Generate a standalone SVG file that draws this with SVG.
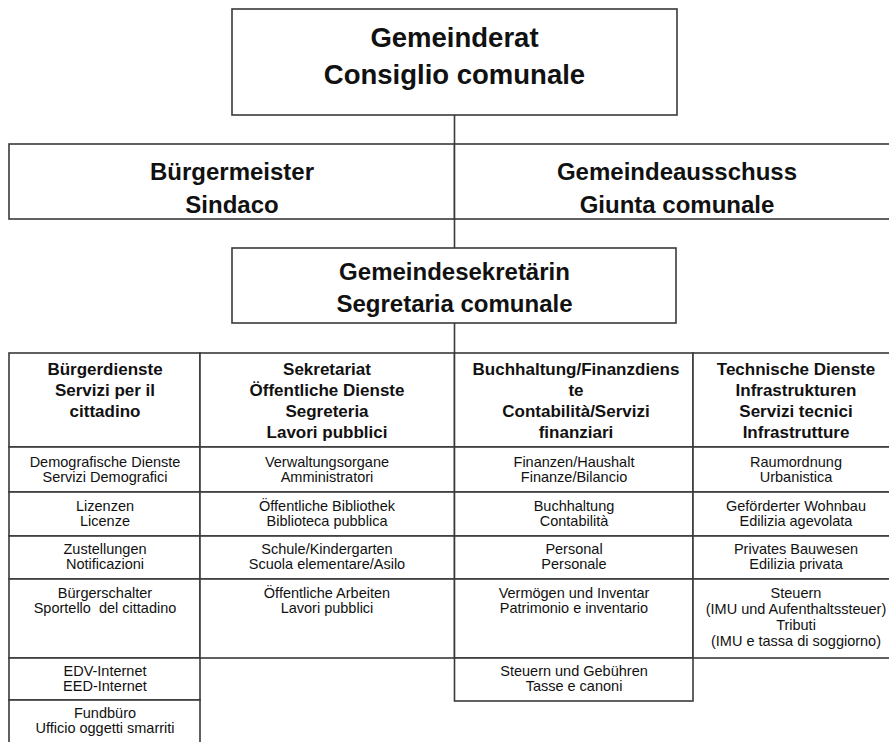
<svg xmlns="http://www.w3.org/2000/svg" width="889" height="742" viewBox="0 0 889 742">
<style>
.bx{fill:#fff;stroke:#3a3a3a;stroke-width:1.6}
.cn{stroke:#3a3a3a;stroke-width:1.6;fill:none}
text{font-family:"Liberation Sans",Arial,sans-serif;fill:#111;text-anchor:middle}
.t1{font-size:27.5px;font-weight:bold}
.t2{font-size:24px;font-weight:bold}
.t3{font-size:24px;font-weight:bold}
.h{font-size:17px;font-weight:bold}
.c{font-size:14.5px}
</style>
<rect width="889" height="742" fill="#fff"/>
<g id="connectors">
<line class="cn" x1="454.5" y1="115" x2="454.5" y2="144"/>
<line class="cn" x1="454.5" y1="219" x2="454.5" y2="248"/>
<line class="cn" x1="454.5" y1="323" x2="454.5" y2="353"/>
</g>
<g id="gemeinderat">
<rect class="bx" x="232" y="9" width="445" height="106"/>
<text class="t1" x="454.5" y="47">Gemeinderat</text>
<text class="t1" x="454.5" y="84">Consiglio comunale</text>
</g>
<g id="buergermeister">
<rect class="bx" x="9" y="144" width="445.5" height="75"/>
<text class="t2" x="232" y="180">Bürgermeister</text>
<text class="t2" x="232" y="213">Sindaco</text>
</g>
<g id="gemeindeausschuss">
<rect class="bx" x="454.5" y="144" width="445" height="75"/>
<text class="t2" x="677" y="180">Gemeindeausschuss</text>
<text class="t2" x="677" y="213">Giunta comunale</text>
</g>
<g id="gemeindesekretaerin">
<rect class="bx" x="232" y="248" width="444" height="75"/>
<text class="t3" x="454.5" y="280">Gemeindesekretärin</text>
<text class="t3" x="454.5" y="312">Segretaria comunale</text>
</g>
<g id="col1-head">
<rect class="bx" x="9" y="353" width="191" height="94"/>
<text class="h" x="105" y="375">Bürgerdienste</text>
<text class="h" x="105" y="396">Servizi per il</text>
<text class="h" x="105" y="417">cittadino</text>
</g>
<g id="col2-head">
<rect class="bx" x="200" y="353" width="254.5" height="94"/>
<text class="h" x="327" y="375">Sekretariat</text>
<text class="h" x="327" y="396">Öffentliche Dienste</text>
<text class="h" x="327" y="417">Segreteria</text>
<text class="h" x="327" y="438">Lavori pubblici</text>
</g>
<g id="col3-head">
<rect class="bx" x="454.5" y="353" width="238.5" height="94"/>
<text class="h" x="576" y="375">Buchhaltung/Finanzdiens</text>
<text class="h" x="576" y="396">te</text>
<text class="h" x="576" y="417">Contabilità/Servizi</text>
<text class="h" x="576" y="438">finanziari</text>
</g>
<g id="col4-head">
<rect class="bx" x="693" y="353" width="206" height="94"/>
<text class="h" x="796" y="375">Technische Dienste</text>
<text class="h" x="796" y="396">Infrastrukturen</text>
<text class="h" x="796" y="417">Servizi tecnici</text>
<text class="h" x="796" y="438">Infrastrutture</text>
</g>
<g id="c1r1"><rect class="bx" x="9" y="447" width="191" height="45"/>
<text class="c" x="105" y="467">Demografische Dienste</text><text class="c" x="105" y="482">Servizi Demografici</text></g>
<g id="c1r2"><rect class="bx" x="9" y="492" width="191" height="44"/>
<text class="c" x="105" y="511">Lizenzen</text><text class="c" x="105" y="526">Licenze</text></g>
<g id="c1r3"><rect class="bx" x="9" y="536" width="191" height="43"/>
<text class="c" x="105" y="554">Zustellungen</text><text class="c" x="105" y="569">Notificazioni</text></g>
<g id="c1r4"><rect class="bx" x="9" y="579" width="191" height="79"/>
<text class="c" x="105" y="598">Bürgerschalter</text><text class="c" x="105" y="613" xml:space="preserve">Sportello  del cittadino</text></g>
<g id="c1r5"><rect class="bx" x="9" y="658" width="191" height="42"/>
<text class="c" x="105" y="676">EDV-Internet</text><text class="c" x="105" y="691">EED-Internet</text></g>
<g id="c1r6"><rect class="bx" x="9" y="700" width="191" height="60"/>
<text class="c" x="105" y="718">Fundbüro</text><text class="c" x="105" y="733">Ufficio oggetti smarriti</text></g>
<g id="c2r1"><rect class="bx" x="200" y="447" width="254.5" height="45"/>
<text class="c" x="327" y="467">Verwaltungsorgane</text><text class="c" x="327" y="482">Amministratori</text></g>
<g id="c2r2"><rect class="bx" x="200" y="492" width="254.5" height="44"/>
<text class="c" x="327" y="511">Öffentliche Bibliothek</text><text class="c" x="327" y="526">Biblioteca pubblica</text></g>
<g id="c2r3"><rect class="bx" x="200" y="536" width="254.5" height="43"/>
<text class="c" x="327" y="554">Schule/Kindergarten</text><text class="c" x="327" y="569">Scuola elementare/Asilo</text></g>
<g id="c2r4"><rect class="bx" x="200" y="579" width="254.5" height="79"/>
<text class="c" x="327" y="598">Öffentliche Arbeiten</text><text class="c" x="327" y="613">Lavori pubblici</text></g>
<g id="c3r1"><rect class="bx" x="454.5" y="447" width="238.5" height="45"/>
<text class="c" x="574" y="467">Finanzen/Haushalt</text><text class="c" x="574" y="482">Finanze/Bilancio</text></g>
<g id="c3r2"><rect class="bx" x="454.5" y="492" width="238.5" height="44"/>
<text class="c" x="574" y="511">Buchhaltung</text><text class="c" x="574" y="526">Contabilità</text></g>
<g id="c3r3"><rect class="bx" x="454.5" y="536" width="238.5" height="43"/>
<text class="c" x="574" y="554">Personal</text><text class="c" x="574" y="569">Personale</text></g>
<g id="c3r4"><rect class="bx" x="454.5" y="579" width="238.5" height="79"/>
<text class="c" x="574" y="598">Vermögen und Inventar</text><text class="c" x="574" y="613">Patrimonio e inventario</text></g>
<g id="c3r5"><rect class="bx" x="454.5" y="658" width="238.5" height="43"/>
<text class="c" x="574" y="676">Steuern und Gebühren</text><text class="c" x="574" y="691">Tasse e canoni</text></g>
<g id="c4r1"><rect class="bx" x="693" y="447" width="206" height="45"/>
<text class="c" x="796" y="467">Raumordnung</text><text class="c" x="796" y="482">Urbanistica</text></g>
<g id="c4r2"><rect class="bx" x="693" y="492" width="206" height="44"/>
<text class="c" x="796" y="511">Geförderter Wohnbau</text><text class="c" x="796" y="526">Edilizia agevolata</text></g>
<g id="c4r3"><rect class="bx" x="693" y="536" width="206" height="43"/>
<text class="c" x="796" y="554">Privates Bauwesen</text><text class="c" x="796" y="569">Edilizia privata</text></g>
<g id="c4r4"><rect class="bx" x="693" y="579" width="206" height="79"/>
<text class="c" x="796" y="598">Steuern</text><text class="c" x="796" y="614">(IMU und Aufenthaltssteuer)</text>
<text class="c" x="796" y="630">Tributi</text><text class="c" x="796" y="646">(IMU e tassa di soggiorno)</text></g>
</svg>
